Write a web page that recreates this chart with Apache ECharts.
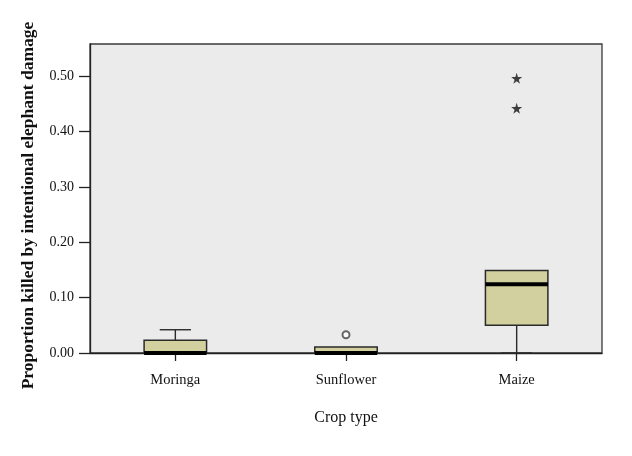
<!DOCTYPE html>
<html>
<head>
<meta charset="utf-8">
<script src="https://cdn.jsdelivr.net/npm/echarts@6/dist/echarts.min.js"></script>
<style>html,body{margin:0;padding:0;background:#fff}#c{width:632px;height:456px}</style>
</head>
<body>
<div id="c"></div>
<script>
const categories = ['Moringa', 'Sunflower', 'Maize'];
// [min, Q1, median, Q3, max]
const boxStats = [
  [0, 0, 0, 0.023, 0.042],
  [0, 0, 0, 0.011, 0.011],
  [0, 0.050, 0.124, 0.149, 0.149]
];
const circleOutliers = [['Sunflower', 0.033]];
const starOutliers = [['Maize', 0.496], ['Maize', 0.442]];
const yTicks = [0, 0.1, 0.2, 0.3, 0.4, 0.5];

const font = 'Liberation Serif, Times New Roman, serif';
const boxData = boxStats.map((s, i) => [i].concat(s));
const star = 'path://M50,0 L61,35 L98,35 L68,57 L79,91 L50,70 L21,91 L32,57 L2,35 L39,35 Z';

const chart = echarts.init(document.getElementById('c'));
chart.setOption({
  animation: false,
  backgroundColor: '#fff',
  grid: {left: 90, right: 30, top: 44, bottom: 103, show: true, backgroundColor: '#ebebeb', borderColor: '#3a3a3a', borderWidth: 1.3},
  xAxis: {
    type: 'category', data: categories, boundaryGap: true,
    name: 'Crop type', nameLocation: 'middle', nameGap: 57,
    nameTextStyle: {fontFamily: font, fontSize: 16, color: '#111'},
    axisLine: {show: true, lineStyle: {color: '#222', width: 1.3}},
    axisTick: {show: true, inside: false, interval: 0, alignWithLabel: true, length: 8, lineStyle: {color: '#222', width: 1.3}},
    axisLabel: {fontFamily: font, fontSize: 14.5, color: '#111', margin: 20},
    splitLine: {show: false}
  },
  yAxis: {
    type: 'value', min: 0, max: 0.558,
    name: 'Proportion killed by intentional elephant damage', nameLocation: 'middle', nameGap: 53,
    nameTextStyle: {fontFamily: font, fontSize: 17.5, fontWeight: 'bold', color: '#111', padding: [0, 14, 0, 0]},
    axisLine: {show: true, lineStyle: {color: '#222', width: 1.3}},
    axisTick: {show: true, length: 11, customValues: yTicks, lineStyle: {color: '#222', width: 1.3}},
    axisLabel: {fontFamily: font, fontSize: 14, color: '#111', margin: 16, customValues: yTicks,
      formatter: v => v.toFixed(2)},
    splitLine: {show: false}
  },
  series: [
    {
      type: 'custom',
      data: boxData,
      encode: {x: 0, y: [1, 2, 3, 4, 5]},
      z: 3,
      renderItem: function (params, api) {
        const c = api.value(0);
        const xc = api.coord([c, 0])[0];
        const hw = api.size([1, 0])[0] * 0.183;
        const y = i => api.coord([c, api.value(i)])[1];
        const yMin = y(1), yQ1 = y(2), yMed = y(3), yQ3 = y(4), yMax = y(5);
        const ls = {stroke: '#2a2a2a', lineWidth: 1.4};
        const children = [];
        if (yMax < yQ3 - 0.5) {
          children.push({type: 'line', shape: {x1: xc, y1: yQ3, x2: xc, y2: yMax}, style: ls});
          children.push({type: 'line', shape: {x1: xc - hw / 2, y1: yMax, x2: xc + hw / 2, y2: yMax}, style: ls});
        }
        if (yMin > yQ1 + 0.5) {
          children.push({type: 'line', shape: {x1: xc, y1: yQ1, x2: xc, y2: yMin}, style: ls});
          children.push({type: 'line', shape: {x1: xc - hw / 2, y1: yMin, x2: xc + hw / 2, y2: yMin}, style: ls});
        }
        children.push({type: 'rect', shape: {x: xc - hw, y: yQ3, width: 2 * hw, height: yQ1 - yQ3},
          style: {fill: '#d3d09f', stroke: '#2a2a2a', lineWidth: 1.5}});
        children.push({type: 'line', shape: {x1: xc - hw, y1: yMed, x2: xc + hw, y2: yMed},
          style: {stroke: '#000', lineWidth: 4}});
        return {type: 'group', children: children};
      }
    },
    {
      type: 'scatter', data: circleOutliers, symbol: 'emptyCircle', symbolSize: 7, z: 4,
      itemStyle: {color: '#444', borderColor: '#444', borderWidth: 1.8}
    },
    {
      type: 'scatter', data: starOutliers, symbol: star, symbolSize: 11, z: 4,
      itemStyle: {color: '#111'}
    }
  ]
});
</script>
</body>
</html>
